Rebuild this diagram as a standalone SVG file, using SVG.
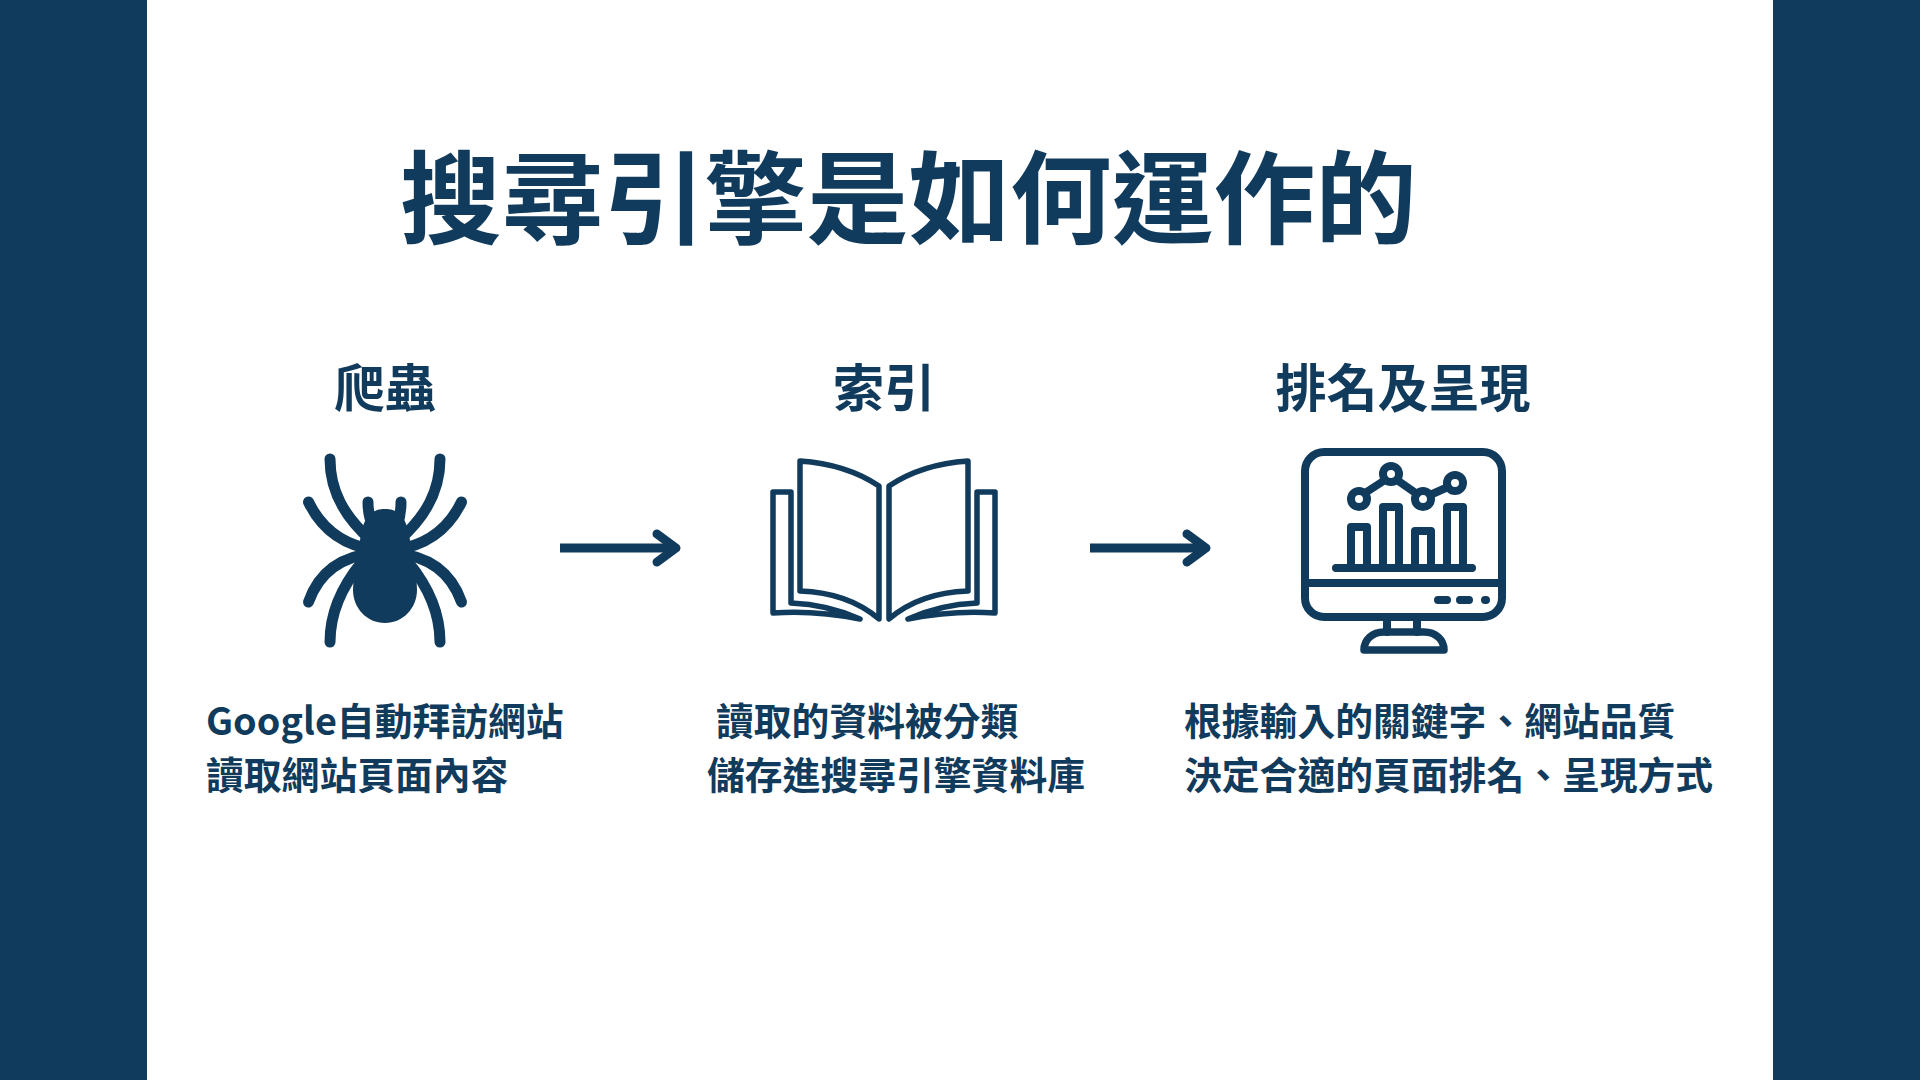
<svg xmlns="http://www.w3.org/2000/svg" width="1920" height="1080" viewBox="0 0 1920 1080">
<style>
text{font-family:"Noto Sans CJK TC","Noto Sans",sans-serif;font-weight:700;fill:#113b5c}
.title{font-size:101.700px}
.head{font-size:51px;text-anchor:middle}
.desc{font-size:37.800px}
.ink{fill:none;stroke:#113b5c;stroke-linecap:round;stroke-linejoin:round}
.solid{fill:#113b5c}
</style>
<rect width="1920" height="1080" fill="#fff"/>
<rect class="solid" x="0" y="0" width="147" height="1080"/>
<rect class="solid" x="1773" y="0" width="147" height="1080"/>
<text id="title" class="title" x="400" y="236">搜尋引擎是如何運作的</text>
<g id="node-crawler">
<text class="head" x="385" y="407">爬蟲</text>
<g class="ink" stroke-width="11">
<path d="M330 459C330 490 343 516 372 541"/><path d="M440 459C440 490 427 516 398 541"/>
<path d="M308.500 502C322 530 345 546 376 550"/><path d="M461.500 502C448 530 425 546 394 550"/>
<path d="M308.500 602C318 575 338 556 376 553"/><path d="M461.500 602C452 575 432 556 394 553"/>
<path d="M330 642C330 612 343 585 362 562"/><path d="M440 642C440 612 427 585 408 562"/>
<path d="M368 502C368 512 369 518 373 526"/><path d="M401 502C401 512 400 518 397 526"/>
</g>
<path class="solid" d="M385 509C396 509 404 514 408 530C411 542 411 552 412 563C415 572 417 580 417 590C417 608 403 623 385 623C367 623 353 608 353 590C353 580 355 572 358 563C359 552 359 542 362 530C366 514 374 509 385 509Z"/>
</g>
<g id="node-index">
<text class="head" x="884" y="407">索引</text>
<g class="ink" stroke-width="5.500">
<path d="M800 461C830 463 858 472 879 486V619C858 601 830 592 800 591Z"/>
<path d="M889 486C910 472 938 463 968 461V591C938 592 910 601 889 619Z"/>
<path d="M791 603C815 604 840 610 860 619C830 613 800 611 773 613V492H791Z"/>
<path d="M977 603C953 604 928 610 908 619C938 613 968 611 995 613V492H977Z"/>
</g>
</g>
<g id="node-ranking">
<text class="head" x="1403" y="407">排名及呈現</text>
<g class="ink" stroke-width="8">
<rect x="1305" y="452" width="197" height="165" rx="19"/>
<path d="M1305 583H1502"/>
<path d="M1336 568H1472"/>
<path d="M1351 568V527H1367V568M1383 568V507H1399V568M1415 568V531H1431V568M1447 568V507H1463V568"/>
<circle cx="1359" cy="499" r="8"/><circle cx="1391" cy="474" r="8"/><circle cx="1423" cy="499" r="8"/><circle cx="1455" cy="483" r="8"/>
<path d="M1365 493L1385 480M1397 480L1417 494M1430 495L1448 487"/>
<path d="M1438 600H1447M1460 600H1469M1485 600H1486"/>
<path d="M1387 620V632M1417 620V632"/>
<path d="M1364 650C1364 640 1372 632 1384 632H1424C1436 632 1444 640 1444 650Z" stroke-width="7.500"/>
</g>
</g>
<g id="connectors" class="ink" stroke-width="9">
<path d="M560 548H674" stroke-linecap="butt"/><path d="M657 534L676 548L657 562"/>
<path d="M1090 548H1204" stroke-linecap="butt"/><path d="M1187 534L1206 548L1187 562"/>
</g>
<g id="text-crawler"><text class="desc" x="206" y="735">Google自動拜訪網站</text><text class="desc" x="206" y="789">讀取網站頁面內容</text></g>
<g id="text-index"><text class="desc" x="716" y="735">讀取的資料被分類</text><text class="desc" x="707" y="789">儲存進搜尋引擎資料庫</text></g>
<g id="text-ranking"><text class="desc" x="1184" y="735">根據輸入的關鍵字、網站品質</text><text class="desc" x="1184" y="789">決定合適的頁面排名、呈現方式</text></g>
</svg>
